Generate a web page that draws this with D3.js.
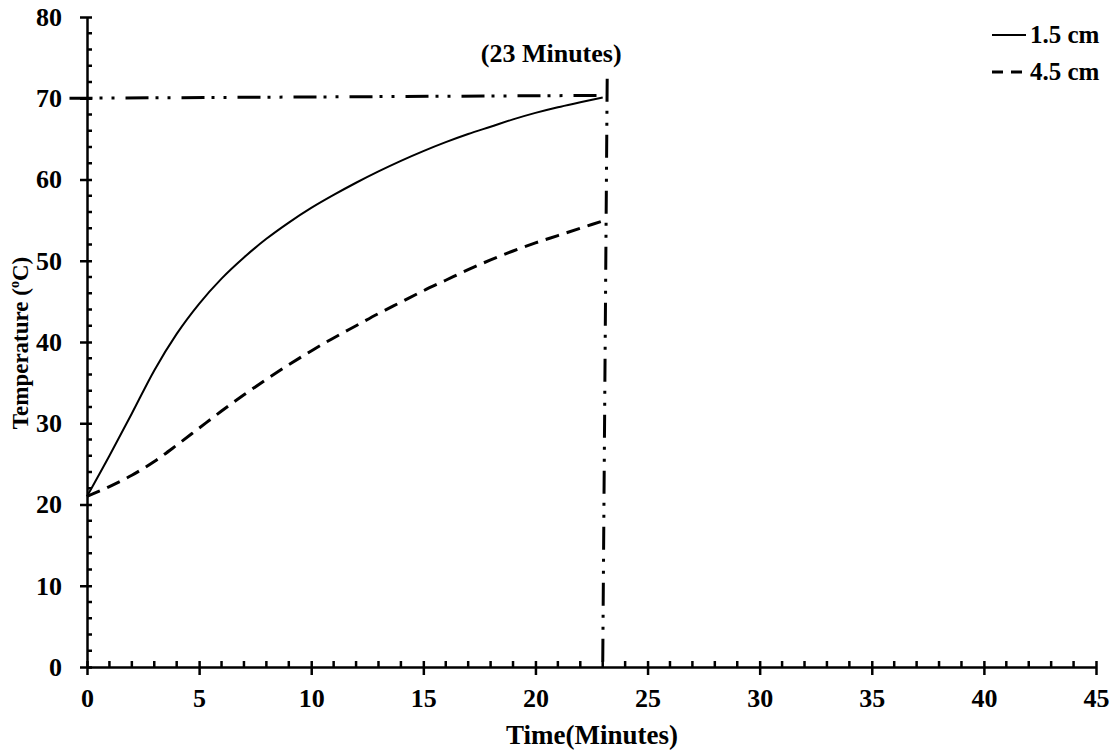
<!DOCTYPE html>
<html>
<head>
<meta charset="utf-8">
<script src="https://cdn.jsdelivr.net/npm/d3@7"></script>
<style>
  body { margin: 0; background: #fff; }
  text { font-family: "Liberation Serif", "Times New Roman", serif; font-weight: bold; fill: #000; }
</style>
</head>
<body>
<div id="chart"></div>
<script>
// time in minutes, temperature in degC
var times = [0,1,2,3,4,5,6,7,8,9,10,11,12,13,14,15,16,17,18,19,20,21,22,23];
var temp15 = [21.0,26.0,31.2,36.5,41.0,44.7,47.8,50.4,52.7,54.7,56.5,58.1,59.6,61.0,62.3,63.5,64.6,65.6,66.5,67.4,68.2,68.9,69.5,70.1];
var temp45 = [21.0,22.2,23.6,25.3,27.3,29.4,31.5,33.5,35.4,37.2,38.9,40.5,42.0,43.5,44.9,46.3,47.6,48.9,50.1,51.2,52.2,53.1,54.0,54.9];
var seriesNames = ["1.5 cm", "4.5 cm"];

// hand drawn guide lines (time, temp)
var guideH = [[-0.78, 70.0], [23.0, 70.35]];
var guideV = [[23.2, 72.4], [23.0, 0]];
var guideLabel = "(23 Minutes)";

var xTicks = [0,5,10,15,20,25,30,35,40,45];
var yTicks = [0,10,20,30,40,50,60,70,80];

var width = 1115, height = 750;
var margin = {top: 17, right: 19, bottom: 83, left: 87};

var svg = d3.select("#chart").append("svg")
    .attr("width", width)
    .attr("height", height);

var x = d3.scaleLinear().domain([0, 45]).range([margin.left, width - margin.right]);
var y = d3.scaleLinear().domain([0, 80]).range([height - margin.bottom, margin.top]);

// minor ticks
var xMinor = d3.range(0, 46, 1).filter(function(d){ return d % 5 !== 0; });
var yMinor = d3.range(0, 81, 2).filter(function(d){ return d % 10 !== 0; });

var gx = svg.append("g").attr("transform", "translate(0," + y(0) + ")");
gx.call(d3.axisBottom(x).tickValues(xTicks).tickSize(8).tickPadding(14).tickSizeOuter(0));
gx.selectAll(".tick line").attr("y1", -6).attr("stroke-width", 2.5);
gx.selectAll(".tick text").attr("font-size", 26);
gx.select(".domain").attr("stroke-width", 2.5);
gx.append("g").selectAll("line")
    .data(xMinor).enter().append("line")
    .attr("x1", function(d){ return x(d); }).attr("x2", function(d){ return x(d); })
    .attr("y1", 0).attr("y2", -6)
    .attr("stroke", "#000").attr("stroke-width", 2.5);

var gy = svg.append("g").attr("transform", "translate(" + x(0) + ",0)");
gy.call(d3.axisLeft(y).tickValues(yTicks).tickSize(7).tickPadding(18).tickSizeOuter(0));
gy.selectAll(".tick line").attr("x1", 5).attr("stroke-width", 2.5);
gy.selectAll(".tick text").attr("font-size", 26);
gy.select(".domain").attr("stroke-width", 2.5);
gy.append("g").selectAll("line")
    .data(yMinor).enter().append("line")
    .attr("y1", function(d){ return y(d); }).attr("y2", function(d){ return y(d); })
    .attr("x1", 0).attr("x2", 5)
    .attr("stroke", "#000").attr("stroke-width", 2.5);

svg.selectAll(".domain").attr("stroke", "#000");
svg.selectAll(".tick line").attr("stroke", "#000");
svg.selectAll(".tick text").attr("fill", "#000").style("font-family", "Liberation Serif, serif").style("font-weight", "bold");

// axis titles
svg.append("text")
    .attr("x", 592)
    .attr("y", 744)
    .attr("text-anchor", "middle")
    .attr("font-size", 27)
    .text("Time(Minutes)");

var yt = svg.append("text")
    .attr("transform", "translate(28,343) rotate(-90)")
    .attr("text-anchor", "middle")
    .attr("font-size", 23);
yt.append("tspan").text("Temperature (");
yt.append("tspan").attr("font-size", 14).attr("dy", -9).text("o");
yt.append("tspan").attr("dy", 9).text("C)");

// curves
var line = d3.line()
    .x(function(d){ return x(d[0]); })
    .y(function(d){ return y(d[1]); })
    .curve(d3.curveMonotoneX);

svg.append("path")
    .datum(d3.zip(times, temp15))
    .attr("d", line)
    .attr("fill", "none").attr("stroke", "#000").attr("stroke-width", 2);

svg.append("path")
    .datum(d3.zip(times, temp45))
    .attr("d", line)
    .attr("fill", "none").attr("stroke", "#000").attr("stroke-width", 3)
    .attr("stroke-dasharray", "14,8");

// guide lines
var straight = d3.line()
    .x(function(d){ return x(d[0]); })
    .y(function(d){ return y(d[1]); });

svg.append("path")
    .datum(guideH)
    .attr("d", straight)
    .attr("fill", "none").attr("stroke", "#000").attr("stroke-width", 3)
    .attr("stroke-dasharray", "23,7,3,9,3,11");

svg.append("path")
    .datum(guideV)
    .attr("d", straight)
    .attr("fill", "none").attr("stroke", "#000").attr("stroke-width", 3)
    .attr("stroke-dasharray", "23,9,3,9,3,9");

svg.append("text")
    .attr("x", x(guideV[0][0]) - 56)
    .attr("y", 62)
    .attr("text-anchor", "middle")
    .attr("font-size", 26)
    .text(guideLabel);

// legend
var legend = svg.append("g").attr("transform", "translate(992,35)");
seriesNames.forEach(function(name, i){
    var row = legend.append("g").attr("transform", "translate(0," + (i * 37) + ")");
    row.append("line")
        .attr("x1", 0).attr("x2", 34).attr("y1", 0).attr("y2", 0)
        .attr("stroke", "#000").attr("stroke-width", i === 0 ? 2 : 3)
        .attr("stroke-dasharray", i === 0 ? null : "11,8");
    row.append("text")
        .attr("x", 38).attr("y", 8)
        .attr("font-size", 25)
        .text(name);
});
</script>
</body>
</html>
